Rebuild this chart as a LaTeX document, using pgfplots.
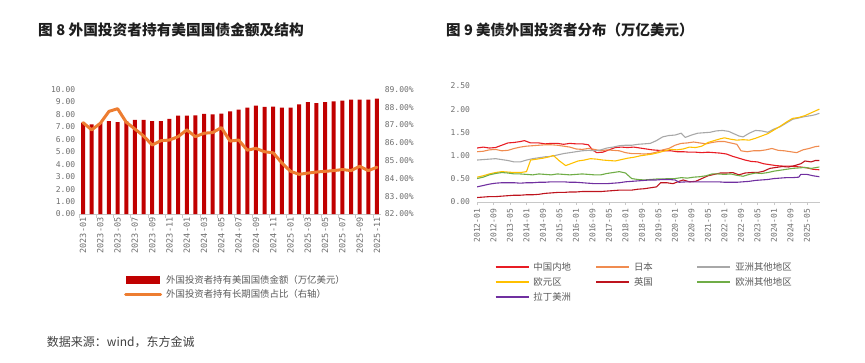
\documentclass[border=0pt]{standalone}
\usepackage{pgfplots}
\pgfplotsset{compat=1.18}
\usepackage{fontspec}
\setmainfont{Noto Sans CJK SC}
\newfontfamily\monofont{DejaVu Sans Mono}
\definecolor{barred}{RGB}{192,0,0}
\definecolor{lineor}{RGB}{237,125,49}
\definecolor{tickc}{RGB}{110,110,110}
\definecolor{axc}{RGB}{200,200,200}
\definecolor{titlec}{RGB}{30,30,30}
\definecolor{legc}{RGB}{90,90,90}
\definecolor{ccn}{RGB}{232,28,36}
\definecolor{cjp}{RGB}{240,140,80}
\definecolor{coa}{RGB}{168,168,168}
\definecolor{cea}{RGB}{255,192,0}
\definecolor{cuk}{RGB}{190,20,30}
\definecolor{coe}{RGB}{112,173,71}
\definecolor{cla}{RGB}{112,48,160}
\pgfplotsset{
  limg/.style={legend image code/.code={\draw[#1, line width=2pt] (0pt,0pt) -- (33pt,0pt); \path (37.4pt,0pt);}},
}
\begin{document}
\begin{tikzpicture}
\path[use as bounding box] (0pt,0pt) rectangle (865pt,-362pt);
\node[anchor=west, text=titlec, inner sep=0pt] at (38pt,-29.5pt) {\fontsize{14.7pt}{14.7pt}\selectfont\bfseries 图 8 外国投资者持有美国国债金额及结构};
\node[anchor=west, text=titlec, inner sep=0pt] at (446pt,-29.5pt) {\fontsize{14.5pt}{14.5pt}\selectfont\bfseries 图 9 美债外国投资者分布（万亿美元）};
\node[anchor=west, text=black!75, inner sep=0pt] at (46.7pt,-341.7pt) {\fontsize{12pt}{12pt}\selectfont 数据来源：wind，东方金诚};

% ---------- left chart: bars ----------
\begin{axis}[
  at={(78.7pt,-214pt)}, anchor=south west, scale only axis,
  width=302.6pt, height=124.5pt,
  xmin=-0.5, xmax=34.5, ymin=0, ymax=10,
  ybar, bar width=4pt,
  axis x line*=bottom, axis y line*=left,
  x axis line style={-, draw=axc},
  y axis line style={draw=none},
  ytick={0,1,...,10},
  yticklabels={0.00,1.00,2.00,3.00,4.00,5.00,6.00,7.00,8.00,9.00,10.00},
  ytick style={draw=none},
  xtick={0,2,...,34},
  xticklabels={2023-01,2023-03,2023-05,2023-07,2023-09,2023-11,2024-01,2024-03,2024-05,2024-07,2024-09,2024-11,2025-01,2025-03,2025-05,2025-07,2025-09,2025-11},
  major tick length=0pt,
  extra x ticks={-0.5,1.5,3.5,5.5,7.5,9.5,11.5,13.5,15.5,17.5,19.5,21.5,23.5,25.5,27.5,29.5,31.5,33.5},
  extra x tick labels={},
  extra x tick style={major tick length=4pt, tick style={draw=axc}, tick align=outside},
  yticklabel style={font=\fontsize{8}{8}\selectfont\monofont, text=tickc},
  xticklabel style={font=\fontsize{8.5}{8.5}\selectfont\monofont, text=tickc, rotate=90, anchor=east, yshift=0pt},
]
\addplot[fill=barred, draw=none] coordinates {
(0,7.33)(1,7.20)(2,7.30)(3,7.46)(4,7.38)(5,7.45)(6,7.56)(7,7.56)(8,7.46)(9,7.46)
(10,7.65)(11,7.91)(12,7.91)(13,7.93)(14,8.04)(15,8.00)(16,8.07)(17,8.25)(18,8.39)(19,8.55)
(20,8.71)(21,8.60)(22,8.63)(23,8.55)(24,8.55)(25,8.81)(26,8.99)(27,8.91)(28,8.99)(29,9.05)
(30,9.10)(31,9.18)(32,9.18)(33,9.18)(34,9.26)};
\end{axis}

% ---------- left chart: line on right axis ----------
\begin{axis}[
  at={(78.7pt,-214pt)}, anchor=south west, scale only axis,
  width=302.6pt, height=124.5pt,
  xmin=-0.5, xmax=34.5, ymin=82, ymax=89,
  axis y line*=right, axis x line=none,
  y axis line style={draw=none},
  xtick=\empty,
  ytick={82,83,...,89},
  yticklabels={82.00\%,83.00\%,84.00\%,85.00\%,86.00\%,87.00\%,88.00\%,89.00\%},
  ytick style={draw=none},
  yticklabel style={font=\fontsize{8}{8}\selectfont\monofont, text=tickc},
  clip=false,
  legend style={at={(0.1497,-0.49)}, anchor=north west, draw=none, fill=none,
    inner sep=0pt, nodes={inner sep=0pt, text=legc, font=\fontsize{9.4}{9.4}\selectfont},
    row sep=4.6pt, column sep=0pt},
  legend cell align=left,
]
\addlegendimage{legend image code/.code={\fill[barred] (0pt,-3pt) rectangle (33pt,3.5pt); \path (38pt,0pt);}}
\addlegendentry{外国投资者持有美国国债金额（万亿美元）}
\addplot[lineor, line width=3pt, line join=round, line cap=round,
  legend image code/.code={\draw[lineor, line width=3pt] (0pt,0pt) -- (35pt,0pt); \path (39pt,0pt);}] coordinates {
(0,87.14)(1,86.73)(2,87.10)(3,87.77)(4,87.92)(5,87.16)(6,86.78)(7,86.39)(8,85.88)(9,86.12)
(10,86.16)(11,86.35)(12,86.73)(13,86.35)(14,86.54)(15,86.58)(16,86.86)(17,86.10)(18,86.16)(19,85.59)
(20,85.69)(21,85.50)(22,85.44)(23,84.87)(24,84.40)(25,84.23)(26,84.30)(27,84.36)(28,84.40)(29,84.44)
(30,84.50)(31,84.44)(32,84.68)(33,84.44)(34,84.63)};
\addlegendentry{外国投资者持有长期国债占比（右轴）}
\end{axis}

% ---------- right chart ----------
\begin{axis}[
  at={(477pt,-201.7pt)}, anchor=south west, scale only axis,
  width=343.4pt, height=115.7pt,
  xmin=0, xmax=166.5, ymin=0, ymax=2.5,
  axis x line*=bottom, axis y line*=left,
  x axis line style={-, draw=axc},
  y axis line style={draw=none},
  ytick={0,0.5,...,2.5},
  yticklabels={0.00,0.50,1.00,1.50,2.00,2.50},
  ytick style={draw=none},
  xtick={0,8,...,160},
  xticklabels={2012-01,2012-09,2013-05,2014-01,2014-09,2015-05,2016-01,2016-09,2017-05,2018-01,2018-09,2019-05,2020-01,2020-09,2021-05,2022-01,2022-09,2023-05,2024-01,2024-09,2025-05},
  xtick style={draw=axc},
  tick align=outside, major tick length=3.5pt,
  yticklabel style={font=\fontsize{8}{8}\selectfont\monofont, text=tickc},
  xticklabel style={font=\fontsize{8}{8}\selectfont\monofont, text=tickc, rotate=90, anchor=east},
  every axis plot/.append style={line width=1.1pt, line join=round},
  legend columns=3,
  legend style={at={(0.0504,-0.526)}, anchor=north west, draw=none, fill=none,
    inner sep=0pt, nodes={inner sep=0pt, text=legc, font=\fontsize{9.4}{9.4}\selectfont},
    row sep=5.5pt, column sep=0pt},
  legend cell align=left,
]
\addplot[ccn, limg=ccn] coordinates {(0,1.16)(3,1.18)(6,1.16)(9,1.17)(12,1.22)(15,1.27)(18,1.28)(21,1.30)(23,1.32)(26,1.27)(30,1.27)(33,1.25)(36,1.26)(39,1.26)(42,1.24)(45,1.26)(48,1.25)(51,1.25)(54,1.23)(56,1.12)(58,1.06)(61,1.07)(64,1.12)(67,1.17)(70,1.18)(73,1.17)(76,1.18)(79,1.16)(82,1.14)(85,1.12)(88,1.11)(91,1.10)(94,1.10)(97,1.08)(100,1.08)(103,1.07)(106,1.07)(109,1.06)(112,1.07)(115,1.06)(118,1.05)(121,1.03)(124,0.98)(127,0.94)(130,0.90)(133,0.87)(136,0.86)(139,0.82)(142,0.80)(145,0.78)(148,0.77)(151,0.77)(154,0.76)(157,0.75)(160,0.73)(163,0.70)(166,0.69)};
\addlegendentry{\makebox[61.6pt][l]{中国内地}}
\addplot[cjp, limg=cjp] coordinates {(0,1.08)(3,1.09)(6,1.12)(9,1.13)(12,1.10)(15,1.11)(18,1.15)(21,1.18)(24,1.20)(27,1.21)(30,1.22)(33,1.23)(36,1.23)(39,1.22)(42,1.20)(45,1.18)(48,1.14)(51,1.13)(54,1.15)(57,1.13)(60,1.10)(63,1.12)(66,1.11)(69,1.10)(72,1.06)(75,1.04)(78,1.04)(81,1.03)(84,1.04)(87,1.07)(90,1.12)(93,1.15)(96,1.22)(99,1.26)(102,1.27)(105,1.29)(108,1.27)(111,1.25)(114,1.28)(117,1.30)(120,1.30)(123,1.27)(126,1.24)(128,1.10)(131,1.08)(134,1.10)(137,1.10)(140,1.12)(143,1.15)(146,1.11)(149,1.10)(152,1.08)(155,1.06)(158,1.12)(161,1.15)(164,1.19)(166,1.20)};
\addlegendentry{\makebox[62.3pt][l]{日本}}
\addplot[coa, limg=coa] coordinates {(0,0.90)(3,0.91)(6,0.92)(9,0.93)(12,0.91)(15,0.89)(18,0.86)(21,0.86)(24,0.90)(27,0.93)(30,0.95)(33,0.97)(36,0.98)(39,1.01)(42,1.04)(45,1.06)(48,1.08)(51,1.10)(54,1.11)(57,1.10)(60,1.12)(63,1.16)(66,1.18)(69,1.21)(72,1.22)(75,1.22)(78,1.24)(81,1.25)(84,1.26)(87,1.32)(90,1.40)(93,1.43)(96,1.44)(99,1.48)(101,1.39)(104,1.44)(107,1.48)(110,1.49)(113,1.50)(116,1.53)(119,1.54)(122,1.52)(125,1.46)(127,1.42)(129,1.40)(132,1.48)(135,1.54)(138,1.53)(141,1.50)(144,1.57)(147,1.62)(150,1.70)(153,1.78)(156,1.81)(159,1.84)(162,1.86)(164,1.88)(166,1.91)};
\addlegendentry{亚洲其他地区}
\addplot[cea, limg=cea] coordinates {(0,0.53)(3,0.56)(6,0.60)(9,0.63)(12,0.65)(15,0.64)(18,0.63)(21,0.63)(24,0.65)(26,0.90)(29,0.92)(32,0.94)(35,0.97)(37,1.00)(40,0.88)(43,0.78)(46,0.83)(49,0.88)(52,0.90)(55,0.93)(58,0.92)(61,0.90)(64,0.89)(67,0.88)(70,0.91)(73,0.94)(76,0.96)(79,0.99)(82,1.01)(85,1.03)(88,1.06)(91,1.10)(94,1.13)(97,1.12)(100,1.14)(103,1.18)(106,1.17)(109,1.20)(112,1.28)(115,1.32)(118,1.36)(120,1.38)(123,1.35)(126,1.33)(129,1.34)(132,1.33)(135,1.37)(138,1.42)(141,1.47)(144,1.55)(147,1.63)(150,1.72)(153,1.80)(156,1.82)(159,1.86)(162,1.92)(164,1.96)(166,2.00)};
\addlegendentry{\makebox[61.6pt][l]{欧元区}}
\addplot[cuk, limg=cuk] coordinates {(0,0.09)(3,0.10)(6,0.11)(9,0.11)(12,0.12)(15,0.13)(18,0.14)(21,0.14)(24,0.15)(27,0.15)(30,0.16)(33,0.18)(36,0.19)(39,0.20)(42,0.20)(45,0.21)(48,0.21)(51,0.22)(54,0.22)(57,0.22)(60,0.22)(63,0.23)(66,0.24)(69,0.25)(72,0.25)(75,0.25)(78,0.27)(81,0.28)(84,0.30)(87,0.32)(89,0.41)(92,0.41)(95,0.39)(98,0.44)(100,0.47)(103,0.43)(106,0.44)(109,0.50)(112,0.56)(115,0.59)(118,0.62)(121,0.62)(124,0.63)(127,0.58)(130,0.62)(133,0.63)(136,0.63)(139,0.66)(142,0.72)(145,0.74)(148,0.76)(151,0.75)(154,0.78)(157,0.82)(159,0.88)(162,0.86)(164,0.89)(166,0.89)};
\addlegendentry{\makebox[62.3pt][l]{英国}}
\addplot[coe, limg=coe] coordinates {(0,0.50)(3,0.53)(6,0.58)(9,0.61)(12,0.63)(15,0.62)(18,0.60)(21,0.60)(24,0.59)(27,0.58)(30,0.60)(33,0.59)(36,0.58)(39,0.60)(42,0.59)(45,0.58)(48,0.59)(51,0.60)(54,0.59)(57,0.58)(60,0.58)(63,0.61)(66,0.63)(69,0.65)(72,0.62)(75,0.50)(78,0.48)(81,0.47)(84,0.48)(87,0.49)(90,0.49)(93,0.50)(96,0.50)(99,0.52)(102,0.51)(105,0.53)(108,0.54)(111,0.56)(114,0.60)(117,0.60)(120,0.59)(123,0.60)(126,0.57)(129,0.55)(132,0.59)(135,0.62)(138,0.61)(141,0.63)(144,0.66)(147,0.68)(150,0.70)(153,0.72)(156,0.73)(159,0.74)(162,0.72)(166,0.75)};
\addlegendentry{欧洲其他地区}
\addplot[cla, limg=cla] coordinates {(0,0.32)(3,0.35)(6,0.38)(9,0.40)(12,0.41)(15,0.41)(18,0.41)(21,0.40)(24,0.41)(27,0.41)(30,0.42)(33,0.42)(36,0.43)(39,0.43)(42,0.43)(45,0.42)(48,0.42)(51,0.41)(54,0.40)(57,0.39)(60,0.39)(63,0.39)(66,0.40)(69,0.41)(72,0.43)(75,0.44)(78,0.45)(81,0.46)(84,0.47)(87,0.47)(90,0.48)(93,0.48)(96,0.47)(98,0.42)(102,0.43)(105,0.43)(108,0.43)(111,0.43)(114,0.43)(117,0.43)(120,0.42)(123,0.42)(126,0.42)(129,0.43)(132,0.44)(135,0.46)(138,0.47)(141,0.48)(144,0.50)(147,0.51)(150,0.52)(153,0.52)(156,0.53)(157,0.59)(160,0.59)(163,0.56)(166,0.54)};
\addlegendentry{拉丁美洲}
\end{axis}
\end{tikzpicture}
\end{document}
